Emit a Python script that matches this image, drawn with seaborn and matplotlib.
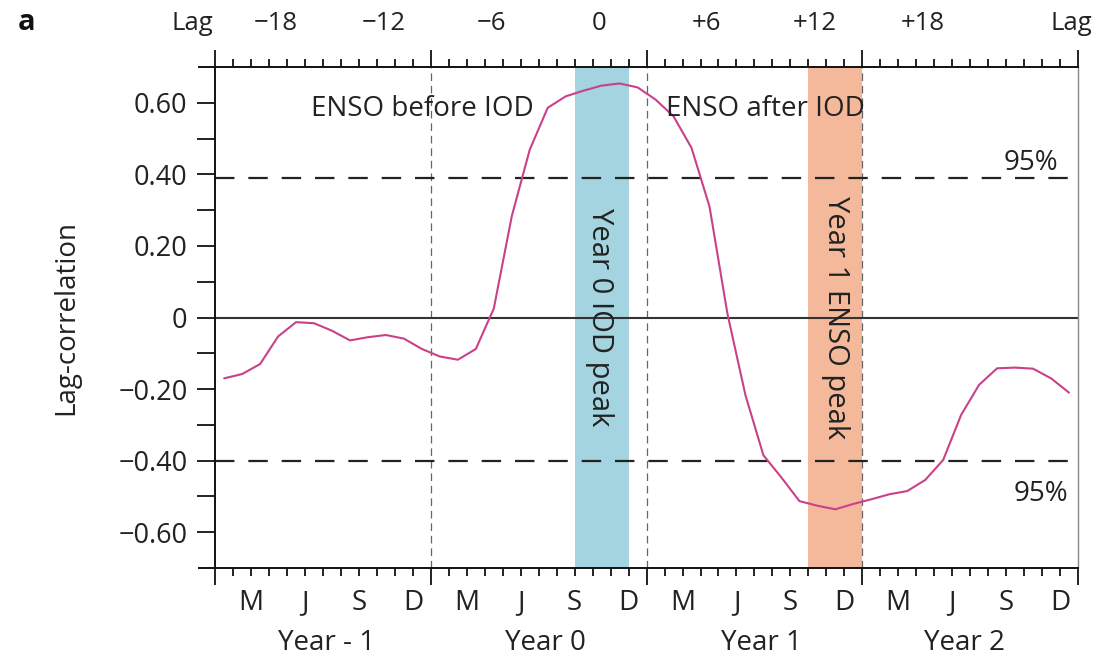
import matplotlib
matplotlib.use("Agg")
import matplotlib.pyplot as plt
import matplotlib.ticker as mticker
import matplotlib.transforms as mtransforms
import numpy as np
import pandas as pd
import seaborn as sns

# %% values
# one value per month, Jan of Year -1 .. Dec of Year 2, plotted at month centres
month_idx = np.arange(48)
lag_corr = [-0.170, -0.158, -0.130, -0.053, -0.013, -0.016, -0.037, -0.064,
            -0.055, -0.049, -0.059, -0.088,
            -0.109, -0.118, -0.088, 0.025, 0.283, 0.469, 0.586, 0.618,
            0.634, 0.648, 0.654, 0.643,
            0.609, 0.562, 0.474, 0.310, 0.010, -0.217, -0.385, -0.447,
            -0.513, -0.526, -0.536, -0.521,
            -0.508, -0.494, -0.485, -0.454, -0.398, -0.272, -0.188, -0.142,
            -0.140, -0.143, -0.170, -0.210]

sig_upper = 0.39
sig_lower = -0.40

lag_ticks = [-18, -12, -6, 0, 6, 12, 18]
lag_labels = ["\u221218", "\u221212", "\u22126", "0", "+6", "+12", "+18"]
lag_zero = 21.35   # month position of lag 0

month_letters = ["M", "J", "S", "D"]
month_in_year = [2, 5, 8, 11]
year_names = ["Year - 1", "Year 0", "Year 1", "Year 2"]
year_centres = [6.2, 18.4, 30.4, 41.7]

iod_peak = (20, 23)    # Sep-Nov Year 0
enso_peak = (33, 36)   # Oct-Dec Year 1

df = pd.DataFrame({"month": month_idx + 0.5, "corr": lag_corr})

# %% plot
sns.set_theme(style="white")
plt.rcParams["font.family"] = ["Open Sans", "DejaVu Sans"]
plt.rcParams["lines.scale_dashes"] = False

fig = plt.figure(figsize=(11.04, 6.59), dpi=100)
ax = fig.add_axes([199 / 1104, 1 - 568 / 659, 879 / 1104, 501 / 659])

ax.axvspan(*iod_peak, color="#a3d4df", lw=0, zorder=0)
ax.axvspan(*enso_peak, color="#f4b99b", lw=0, zorder=0)
for xb in [12, 24, 36]:
    ax.axvline(xb, color="#666666", lw=0.9, dashes=(5.5, 3.5), zorder=1)
ax.hlines(0, 0, 48, color="#333333", lw=1.5, zorder=2)
ax.hlines([sig_upper, sig_lower], 0, 48, color="#222222", lw=1.6,
          linestyles=[(0, (14, 10))], zorder=2)

sns.lineplot(data=df, x="month", y="corr", ax=ax, color="#c8418a",
             linewidth=1.5, zorder=3)

ax.set_xlim(-0.9, 48)
ax.set_ylim(-0.7, 0.7)

# spines
ax.spines["left"].set_position(("data", 0))
for s in ["left", "top", "bottom"]:
    ax.spines[s].set_color("#111111")
    ax.spines[s].set_linewidth(1.4)
ax.spines["right"].set_color("#888888")
ax.spines["right"].set_linewidth(1.0)

# y axis
ax.yaxis.set_major_locator(mticker.FixedLocator([-0.6, -0.4, -0.2, 0, 0.2, 0.4, 0.6]))
ax.yaxis.set_minor_locator(mticker.FixedLocator([-0.5, -0.3, -0.1, 0.1, 0.3, 0.5]))
ax.yaxis.set_major_formatter(mticker.FuncFormatter(
    lambda v, p: "0" if abs(v) < 1e-9 else ("%.2f" % v).replace("-", "\u2212")))
ax.tick_params(axis="y", which="both", direction="out", length=13, width=1.3,
               color="#111111", left=True, pad=7, labelsize=19.5, labelcolor="#222222")

# x axis: month ticks, year boundaries longer
year_bounds = [0, 12, 24, 36, 48]
minor_pos = [m for m in range(49) if m % 12 != 0]
minor_lab = []
for m in minor_pos:
    k = m % 12
    minor_lab.append(month_letters[month_in_year.index(k)] if k in month_in_year else "")
ax.xaxis.set_major_locator(mticker.FixedLocator(year_bounds))
ax.xaxis.set_major_formatter(mticker.NullFormatter())
ax.xaxis.set_minor_locator(mticker.FixedLocator(minor_pos))
ax.xaxis.set_minor_formatter(mticker.FixedFormatter(minor_lab))
ax.tick_params(axis="x", which="both", direction="out", bottom=True, top=True,
               labeltop=False, color="#111111", width=1.3)
ax.tick_params(axis="x", which="major", length=12)
ax.tick_params(axis="x", which="minor", length=5.5, pad=9.5, labelsize=20,
               labelcolor="#222222")

ax.set_xlabel("")
ax.set_ylabel("Lag-correlation", fontsize=20, color="#222222")
ax.yaxis.set_label_coords(-0.135, 0.5)

trans = mtransforms.blended_transform_factory(ax.transData, ax.transAxes)
for name, xc in zip(year_names, year_centres):
    ax.text(xc, -0.164, name, transform=trans, ha="center", va="baseline",
            fontsize=20, color="#222222")

# lag axis on top
for lag, lab in zip(lag_ticks, lag_labels):
    ax.text(lag_zero + lag, 1.073, lab, transform=trans, ha="center",
            va="baseline", fontsize=18.5, color="#222222", clip_on=False)
ax.text(-1.25, 1.073, "Lag", transform=trans, ha="center", va="baseline",
        fontsize=18.5, color="#222222")
ax.text(47.65, 1.073, "Lag", transform=trans, ha="center", va="baseline",
        fontsize=18.5, color="#222222")

# annotations
ax.text(11.5, 0.562, "ENSO before IOD", ha="center", va="baseline",
        fontsize=20, color="#222222", zorder=4)
ax.text(30.6, 0.562, "ENSO after IOD", ha="center", va="baseline",
        fontsize=20, color="#222222", zorder=4)
ax.text(46.9, 0.413, "95%", ha="right", va="baseline", fontsize=20, color="#222222")
ax.text(47.45, -0.512, "95%", ha="right", va="baseline", fontsize=20, color="#222222")
ax.text(21.4, 0.0, "Year 0 IOD peak", rotation=-90, ha="center", va="center",
        fontsize=21, color="#222222", zorder=4)
ax.text(34.5, 0.0, "Year 1 ENSO peak", rotation=-90, ha="center", va="center",
        fontsize=21, color="#222222", zorder=4)

fig.text(0.0163, 0.9545, "a", fontsize=21, fontweight="bold", color="#111111")

fig.savefig("out.png", dpi=100)
